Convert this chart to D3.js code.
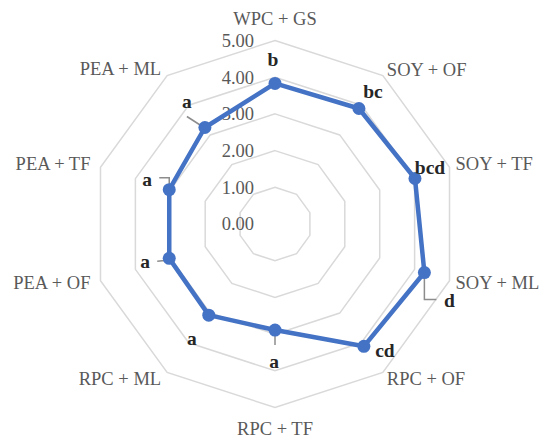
<!DOCTYPE html>
<html><head><meta charset="utf-8">
<script src="https://cdn.jsdelivr.net/npm/d3@7"></script>
<style>body{margin:0;background:#fff}svg{display:block}</style>
</head><body>
<script>
const categories = ["WPC + GS","SOY + OF","SOY + TF","SOY + ML","RPC + OF","RPC + TF","RPC + ML","PEA + OF","PEA + TF","PEA + ML"];
const values = [3.83, 3.89, 4.01, 4.28, 4.12, 2.89, 3.07, 3.03, 3.03, 3.25];
const letters = ["b","bc","bcd","d","cd","a","a","a","a","a"];
const tickValues = [0,1,2,3,4,5];

const W = 550, H = 446, cx = 275, cy = 224;
const svg = d3.select("body").append("svg").attr("width", W).attr("height", H);
const r = d3.scaleLinear().domain([0,5]).range([0,183.5]);
const ang = d3.scaleLinear().domain([0, categories.length]).range([0, 2*Math.PI]);
const pt = (i, v) => [cx + r(v)*Math.sin(ang(i)), cy - r(v)*Math.cos(ang(i))];

const font = "'Liberation Serif', 'Times New Roman', serif";
// grid rings
tickValues.filter(t => t > 0).forEach(t => {
  svg.append("polygon")
    .attr("points", categories.map((c,i) => pt(i,t).join(",")).join(" "))
    .attr("fill","none").attr("stroke","#d9d9d9").attr("stroke-width",1.5);
});
// tick labels
svg.selectAll("text.tick").data(tickValues).enter().append("text")
  .attr("x", cx - 21).attr("y", d => cy - r(d)).attr("dy","0.35em")
  .attr("text-anchor","end").attr("font-family",font).attr("font-size",18.5)
  .attr("fill","#595959").text(d => d.toFixed(2));
// category labels
const catOff = [[0,-22,"middle"],[4,-6,"start"],[6,-4,"start"],[6,2,"start"],[4,6,"start"],[0,21,"middle"],[-6,6,"end"],[-10,2,"end"],[-10,-4,"end"],[-6,-7,"end"]];
svg.selectAll("text.cat").data(categories).enter().append("text")
  .attr("x", (d,i) => pt(i,5)[0] + catOff[i][0])
  .attr("y", (d,i) => pt(i,5)[1] + catOff[i][1]).attr("dy","0.35em")
  .attr("text-anchor",(d,i) => catOff[i][2])
  .attr("font-family",font).attr("font-size",18.5).attr("fill","#595959").text(d => d);
// leader lines
const leaders = {3:[[0,4],[0,27],[12,27]],5:[[0,3],[0,15]],7:[[-12,3],[-2,2]],8:[[-10,-12],[0,-12],[0,-2]],9:[[-18,-11],[-4,-2]]};
Object.entries(leaders).forEach(([i,pts]) => {
  const p = pt(+i, values[+i]);
  svg.append("polyline").attr("points", pts.map(q => [p[0]+q[0], p[1]+q[1]].join(",")).join(" "))
    .attr("fill","none").attr("stroke","#8c8c8c").attr("stroke-width",1.5);
});
// series line
const line = d3.line().curve(d3.curveLinearClosed);
svg.append("path").attr("d", line(values.map((v,i) => pt(i,v))))
  .attr("fill","none").attr("stroke","#4472C4").attr("stroke-width",4.5).attr("stroke-linejoin","round");
svg.selectAll("circle.m").data(values).enter().append("circle")
  .attr("cx",(d,i) => pt(i,d)[0]).attr("cy",(d,i) => pt(i,d)[1]).attr("r",6.5).attr("fill","#4472C4");
// letter labels
const letOff = [[-2,-17],[14,-11],[15,-5],[25,34],[21,11],[-1,38],[-17,30],[-24,10],[-22,-4],[-18,-20]];
svg.selectAll("text.let").data(letters).enter().append("text")
  .attr("x",(d,i) => pt(i,values[i])[0] + letOff[i][0])
  .attr("y",(d,i) => pt(i,values[i])[1] + letOff[i][1])
  .attr("text-anchor","middle").attr("font-family",font).attr("font-size",19.5)
  .attr("font-weight","bold").attr("fill","#262626").text(d => d);
</script>
</body></html>
